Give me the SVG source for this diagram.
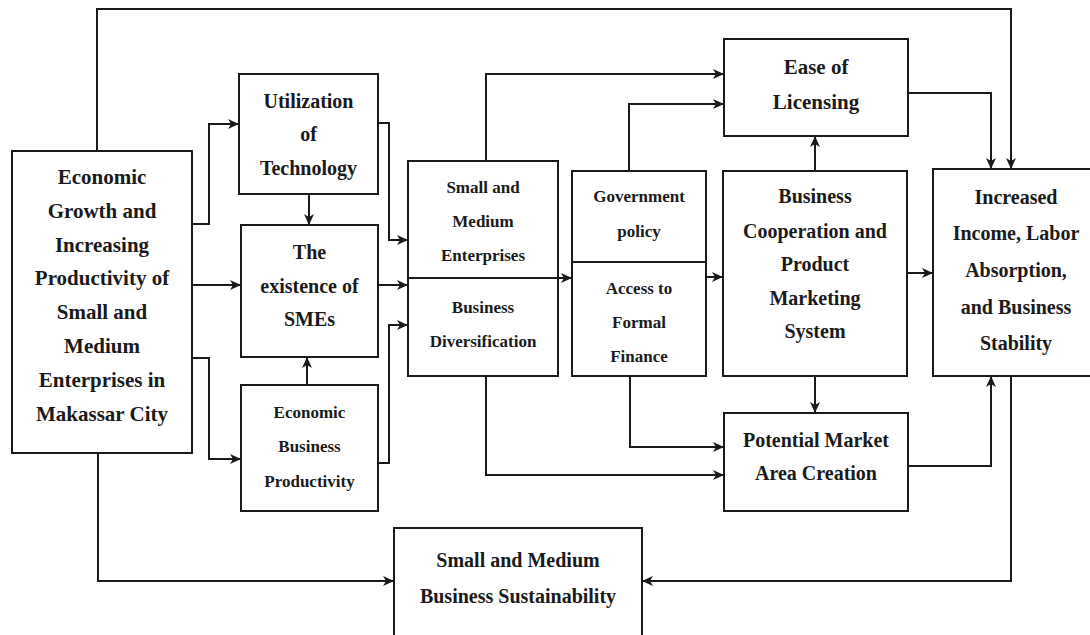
<svg xmlns="http://www.w3.org/2000/svg" width="1090" height="635" viewBox="0 0 1090 635">
<style>
.box{fill:#fff;stroke:#1a1a1a;stroke-width:2}
.div{stroke:#1a1a1a;stroke-width:2}
.c{fill:none;stroke:#1a1a1a;stroke-width:2;marker-end:url(#ah)}
text{font-family:"Liberation Serif","Times New Roman",serif;font-weight:bold;fill:#1a1a1a;text-anchor:middle}
.f21{font-size:21px}.f20{font-size:20px}.f17{font-size:17px}
</style>
<defs>
<marker id="ah" markerUnits="userSpaceOnUse" markerWidth="12" markerHeight="10" refX="11" refY="5" orient="auto">
<path d="M0,0 L11,5 L0,10 L3,5 Z" fill="#1a1a1a"/>
</marker>
</defs>
<rect width="1090" height="635" fill="#fff"/>
<g id="connectors">
<path class="c" d="M97,151 V9 H1011 V169"/>
<path class="c" d="M98,453 V581 H394"/>
<path class="c" d="M1011,376 V581 H642"/>
<path class="c" d="M192,224 H209 V124 H239"/>
<path class="c" d="M192,285 H241"/>
<path class="c" d="M192,358 H209 V459 H241"/>
<path class="c" d="M309,194 V225"/>
<path class="c" d="M307,385 V357"/>
<path class="c" d="M378,123 H389 V240 H408"/>
<path class="c" d="M378,285 H408"/>
<path class="c" d="M378,463 H389 V325 H408"/>
<path class="c" d="M486,161 V74 H724"/>
<path class="c" d="M558,278 H572"/>
<path class="c" d="M629,171 V104 H724"/>
<path class="c" d="M706,277 H723"/>
<path class="c" d="M630,376 V447 H724"/>
<path class="c" d="M486,376 V475 H724"/>
<path class="c" d="M815,171 V136"/>
<path class="c" d="M907,273 H933"/>
<path class="c" d="M815,376 V413"/>
<path class="c" d="M908,93 H991 V169"/>
<path class="c" d="M908,466 H991 V376"/>
</g>
<g id="main">
<rect class="box" x="12" y="151" width="180" height="302"/>
<text class="f21" x="102" y="184">Economic</text>
<text class="f21" x="102" y="218">Growth and</text>
<text class="f21" x="102" y="252">Increasing</text>
<text class="f21" x="102" y="285">Productivity of</text>
<text class="f21" x="102" y="319">Small and</text>
<text class="f21" x="102" y="353">Medium</text>
<text class="f21" x="102" y="387">Enterprises in</text>
<text class="f21" x="102" y="421">Makassar City</text>
</g>
<g id="utilization">
<rect class="box" x="239" y="74" width="139" height="120"/>
<text class="f20" x="308.5" y="108">Utilization</text>
<text class="f20" x="308.5" y="141">of</text>
<text class="f20" x="308.5" y="175">Technology</text>
</g>
<g id="existence">
<rect class="box" x="241" y="225" width="137" height="132"/>
<text class="f20" x="309.5" y="259">The</text>
<text class="f20" x="309.5" y="293">existence of</text>
<text class="f20" x="309.5" y="326">SMEs</text>
</g>
<g id="productivity">
<rect class="box" x="241" y="385" width="137" height="126"/>
<text class="f17" x="309.5" y="418">Economic</text>
<text class="f17" x="309.5" y="452">Business</text>
<text class="f17" x="309.5" y="487">Productivity</text>
</g>
<g id="sme">
<rect class="box" x="408" y="161" width="150" height="215"/>
<line class="div" x1="408" y1="278" x2="558" y2="278"/>
<text class="f17" x="483" y="193">Small and</text>
<text class="f17" x="483" y="227">Medium</text>
<text class="f17" x="483" y="261">Enterprises</text>
<text class="f17" x="483" y="313">Business</text>
<text class="f17" x="483" y="347">Diversification</text>
</g>
<g id="government">
<rect class="box" x="572" y="171" width="134" height="205"/>
<line class="div" x1="572" y1="262" x2="706" y2="262"/>
<text class="f17" x="639" y="202">Government</text>
<text class="f17" x="639" y="237">policy</text>
<text class="f17" x="639" y="294">Access to</text>
<text class="f17" x="639" y="328">Formal</text>
<text class="f17" x="639" y="362">Finance</text>
</g>
<g id="licensing">
<rect class="box" x="724" y="39" width="184" height="97"/>
<text class="f21" x="816" y="74">Ease of</text>
<text class="f21" x="816" y="109">Licensing</text>
</g>
<g id="cooperation">
<rect class="box" x="723" y="171" width="184" height="205"/>
<text class="f20" x="815" y="203">Business</text>
<text class="f20" x="815" y="238">Cooperation and</text>
<text class="f20" x="815" y="271">Product</text>
<text class="f20" x="815" y="305">Marketing</text>
<text class="f20" x="815" y="338">System</text>
</g>
<g id="increased">
<rect class="box" x="933" y="169" width="166" height="207"/>
<text class="f20" x="1016" y="204">Increased</text>
<text class="f20" x="1016" y="240">Income, Labor</text>
<text class="f20" x="1016" y="277">Absorption,</text>
<text class="f20" x="1016" y="314">and Business</text>
<text class="f20" x="1016" y="350">Stability</text>
</g>
<g id="market">
<rect class="box" x="724" y="413" width="184" height="98"/>
<text class="f20" x="816" y="447">Potential Market</text>
<text class="f20" x="816" y="480">Area Creation</text>
</g>
<g id="sustainability">
<rect class="box" x="394" y="528" width="248" height="130"/>
<text class="f20" x="518" y="567">Small and Medium</text>
<text class="f20" x="518" y="603">Business Sustainability</text>
</g>
</svg>
